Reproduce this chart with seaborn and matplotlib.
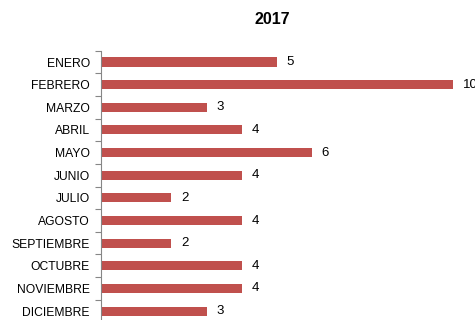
import pandas as pd
import seaborn as sns
import matplotlib.pyplot as plt
from matplotlib.ticker import FixedLocator

# data
meses = ["ENERO", "FEBRERO", "MARZO", "ABRIL", "MAYO", "JUNIO", "JULIO",
         "AGOSTO", "SEPTIEMBRE", "OCTUBRE", "NOVIEMBRE", "DICIEMBRE"]
valores = [5, 10, 3, 4, 6, 4, 2, 4, 2, 4, 4, 3]
titulo = "2017"

df = pd.DataFrame({"mes": meses, "valor": valores})

sns.set_style("white")
plt.rcParams["font.family"] = ["Liberation Sans", "DejaVu Sans"]
plt.rcParams["text.color"] = "black"
plt.rcParams["ytick.labelcolor"] = "black"

fig = plt.figure(figsize=(4.75, 3.2), dpi=100)
# axes runs past the right and bottom edges, like the cropped original
ax = fig.add_axes([101 / 475, -0.0075, 1 - 101 / 475, 0.8416 + 0.0075])

sns.barplot(data=df, x="valor", y="mes", orient="h", color="#C0504D",
            saturation=1, width=0.4, linewidth=0, ax=ax)

ax.set_xlim(0, (475 - 103) / 35.0)
ax.set_ylim(len(meses) - 0.5, -0.5)
ax.set_xlabel("")
ax.set_ylabel("")
ax.set_xticks([])

# value labels
ax.bar_label(ax.containers[0], padding=7, fontsize=9.5, color="black")

# ticks on category boundaries
ax.yaxis.set_minor_locator(FixedLocator([i - 0.5 for i in range(len(meses) + 1)]))
ax.tick_params(axis="y", which="major", length=0, pad=8, labelsize=8.7,
               labelcolor="black")
ax.tick_params(axis="y", which="minor", length=4, width=0.8, color="#868686", left=True)

for side in ["top", "right", "bottom"]:
    ax.spines[side].set_visible(False)
ax.spines["left"].set_color("#868686")
ax.spines["left"].set_linewidth(0.8)

fig.text(272 / 475, 1 - 19 / 320, titulo, ha="center", va="center",
         fontsize=11.5, fontweight="bold", color="black")

fig.savefig("out.png", dpi=100)
